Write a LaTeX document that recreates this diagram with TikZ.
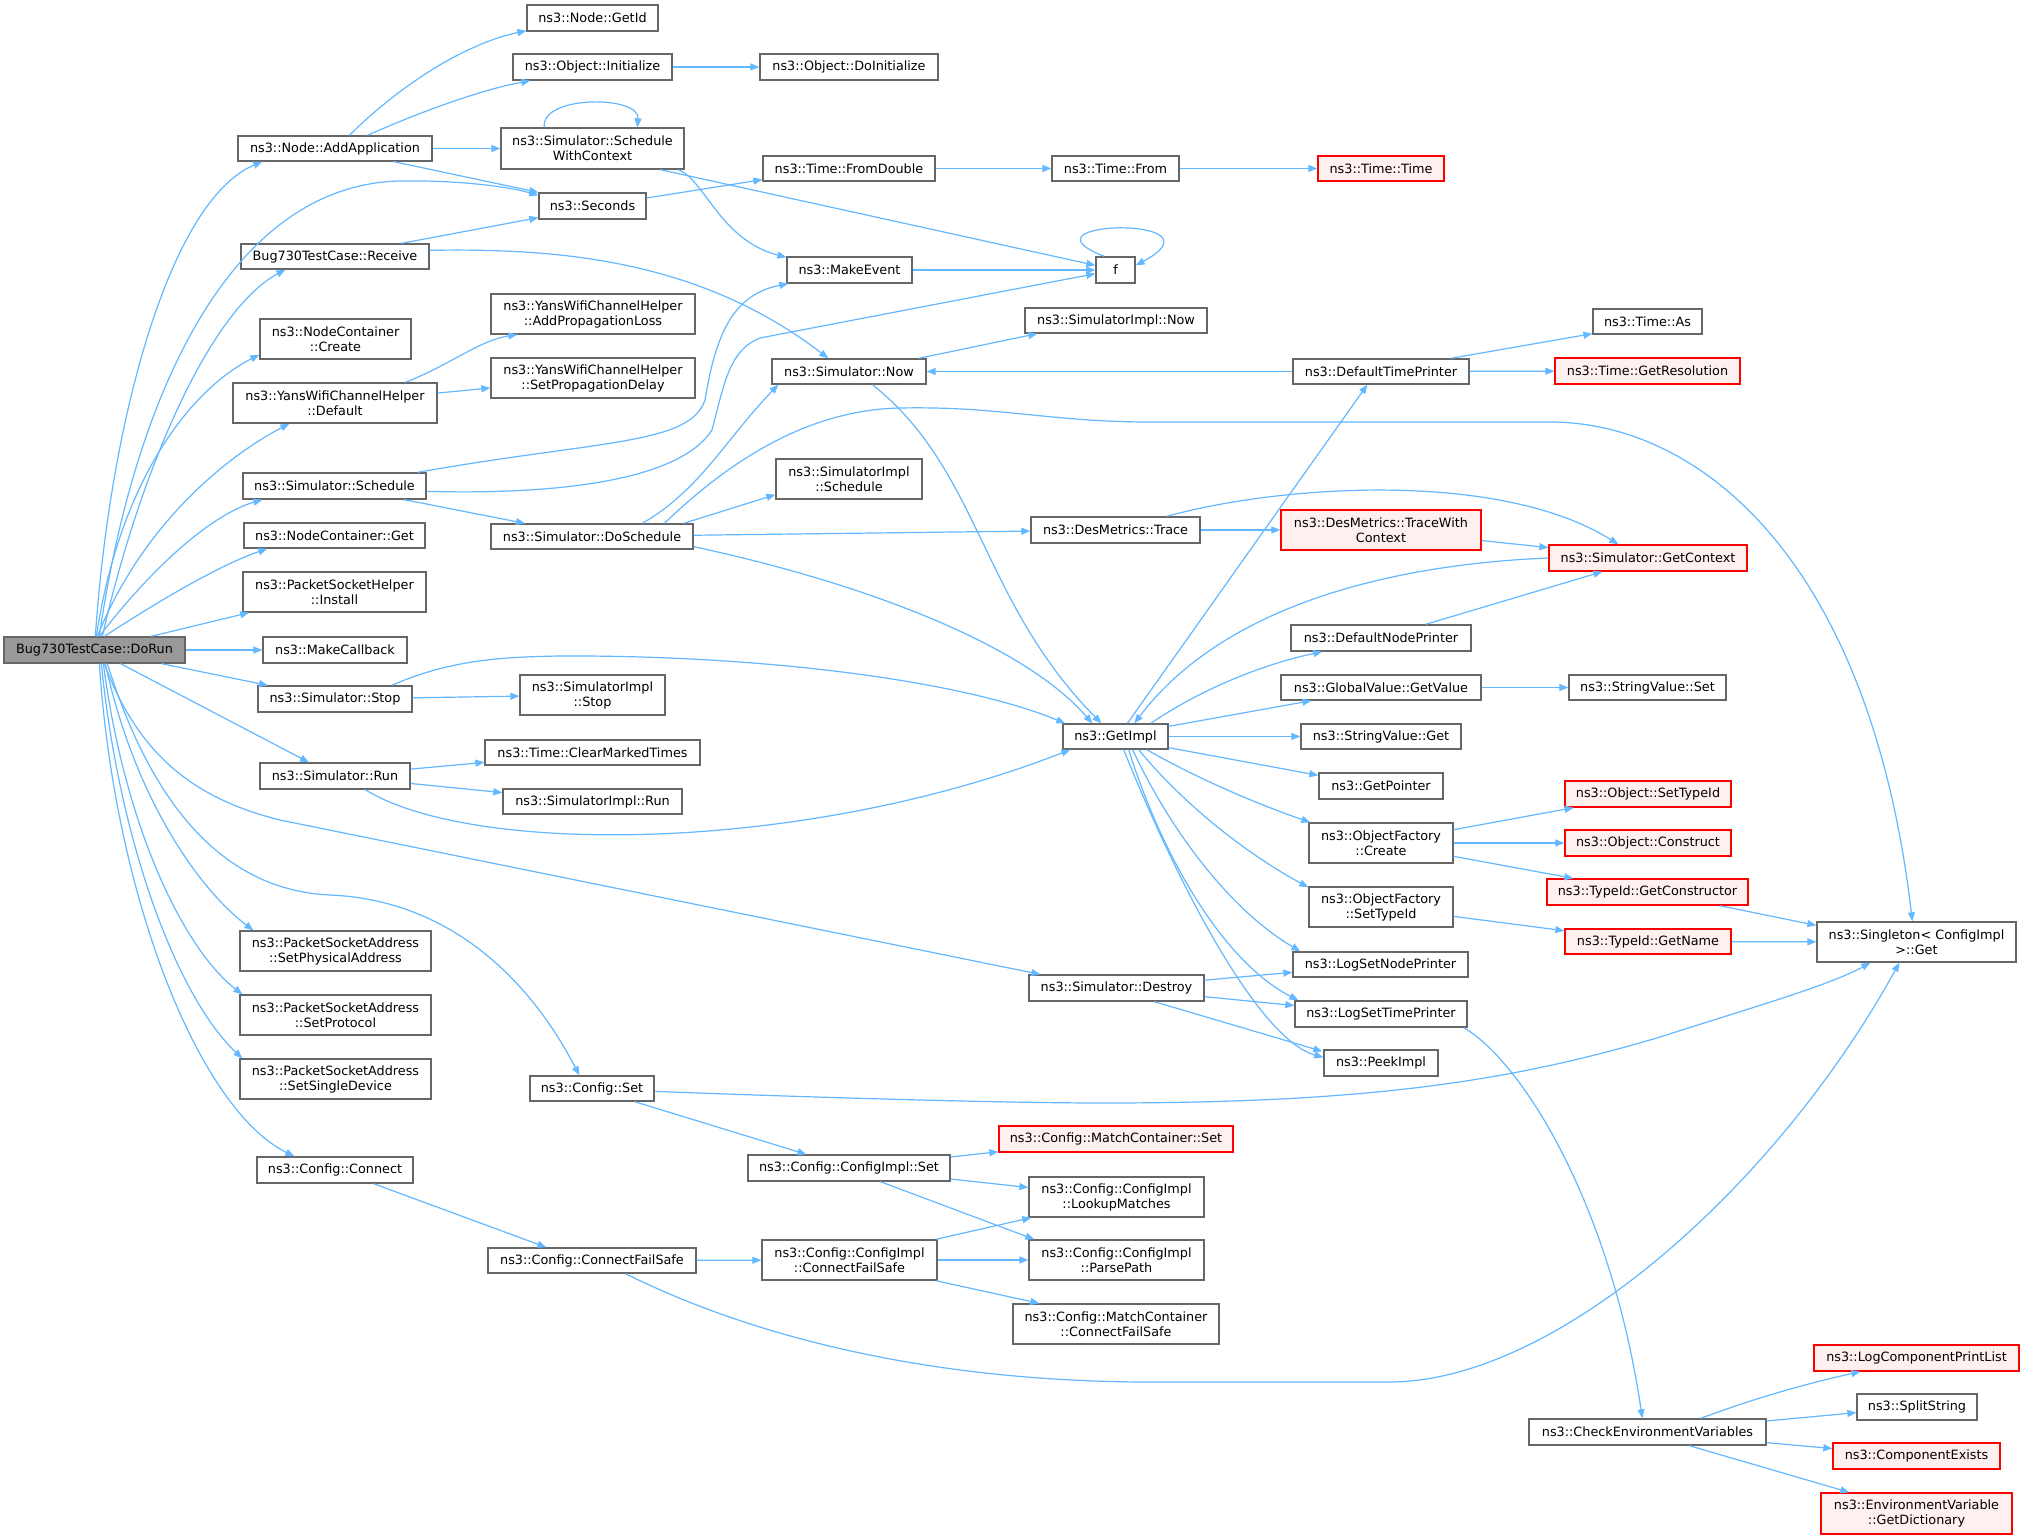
\documentclass[tikz,border=0pt]{standalone}
\usepackage{fontspec}
\setmainfont{DejaVu Sans}
\usetikzlibrary{arrows.meta}
\definecolor{edgec}{HTML}{63B8FF}
\definecolor{nodeb}{HTML}{666666}
\definecolor{redfill}{HTML}{FFF0F0}
\definecolor{redb}{HTML}{FF0000}
\definecolor{rootfill}{HTML}{999999}
\newcommand{\bx}[7]{\node[#1, minimum width={(#5-#3)*1pt}, minimum height={(#6-#4)*1pt}] (#2) at ({(#3+#5)/2},{(#4+#6)/2}) {#7};}
\begin{document}
\begin{tikzpicture}[x=1pt,y=-1pt,
 box/.style={draw=nodeb, fill=white, line width=1.3pt, inner sep=0pt, align=center, font=\fontsize{12.8}{15}\selectfont},
 redbox/.style={box, draw=redb, fill=redfill},
 rootbox/.style={box, fill=rootfill},
 e/.style={draw=edgec, line width=1.2pt, -{Triangle[length=9pt,width=7pt]}}]
\fill[white] (0,0) rectangle (2024,1539);
\useasboundingbox (0,0) rectangle (2024,1539);

\bx{rootbox}{DoRun}{4}{637}{185}{663}{Bug730TestCase::DoRun}
\bx{box}{GetId}{527}{5}{658}{31}{ns3::Node::GetId}
\bx{box}{ObjInit}{513}{54}{672}{80}{ns3::Object::Initialize}
\bx{box}{DoInit}{760}{54}{938}{80}{ns3::Object::DoInitialize}
\bx{box}{SWC}{501}{128}{684}{169}{ns3::Simulator::Schedule\\WithContext}
\bx{box}{AddApp}{238}{136}{432}{161}{ns3::Node::AddApplication}
\bx{box}{Seconds}{539}{193}{646}{219}{ns3::Seconds}
\bx{box}{FromDouble}{763}{156}{935}{181}{ns3::Time::FromDouble}
\bx{box}{TimeFrom}{1052}{156}{1179}{181}{ns3::Time::From}
\bx{redbox}{TimeTime}{1318}{156}{1444}{181}{ns3::Time::Time}
\bx{box}{Receive}{241}{244}{429}{269}{Bug730TestCase::Receive}
\bx{box}{MakeEvent}{787}{257}{912}{283}{ns3::MakeEvent}
\bx{box}{f}{1096}{257}{1135}{283}{f}
\bx{box}{AddPropLoss}{491}{294}{695}{334}{ns3::YansWifiChannelHelper\\::AddPropagationLoss}
\bx{box}{SimImplNow}{1025}{308}{1207}{333}{ns3::SimulatorImpl::Now}
\bx{box}{TimeAs}{1593}{309}{1702}{334}{ns3::Time::As}
\bx{box}{NCCreate}{260}{319}{411}{359}{ns3::NodeContainer\\::Create}
\bx{box}{SetPropDelay}{491}{358}{695}{398}{ns3::YansWifiChannelHelper\\::SetPropagationDelay}
\bx{box}{SimNow}{772}{359}{926}{384}{ns3::Simulator::Now}
\bx{box}{DTP}{1293}{359}{1469}{384}{ns3::DefaultTimePrinter}
\bx{redbox}{GetRes}{1555}{358}{1740}{384}{ns3::Time::GetResolution}
\bx{box}{YansDefault}{233}{383}{437}{423}{ns3::YansWifiChannelHelper\\::Default}
\bx{box}{SimImplSched}{776}{459}{922}{499}{ns3::SimulatorImpl\\::Schedule}
\bx{box}{Schedule}{243}{473}{426}{499}{ns3::Simulator::Schedule}
\bx{redbox}{TraceWC}{1281}{510}{1481}{550}{ns3::DesMetrics::TraceWith\\Context}
\bx{box}{Trace}{1031}{517}{1200}{543}{ns3::DesMetrics::Trace}
\bx{box}{NCGet}{244}{523}{425}{548}{ns3::NodeContainer::Get}
\bx{box}{DoSchedule}{491}{524}{693}{549}{ns3::Simulator::DoSchedule}
\bx{redbox}{GetContext}{1549}{545}{1747}{571}{ns3::Simulator::GetContext}
\bx{box}{Install}{243}{572}{426}{612}{ns3::PacketSocketHelper\\::Install}
\bx{box}{DNP}{1291}{625}{1471}{651}{ns3::DefaultNodePrinter}
\bx{box}{MakeCallback}{263}{637}{407}{663}{ns3::MakeCallback}
\bx{box}{GetValue}{1281}{675}{1481}{700}{ns3::GlobalValue::GetValue}
\bx{box}{SVSet}{1569}{675}{1726}{700}{ns3::StringValue::Set}
\bx{box}{SimImplStop}{520}{675}{665}{715}{ns3::SimulatorImpl\\::Stop}
\bx{box}{Stop}{258}{686}{412}{712}{ns3::Simulator::Stop}
\bx{box}{GetImpl}{1063}{724}{1168}{749}{ns3::GetImpl}
\bx{box}{SVGet}{1301}{724}{1461}{749}{ns3::StringValue::Get}
\bx{box}{ClearMarked}{485}{740}{700}{765}{ns3::Time::ClearMarkedTimes}
\bx{box}{Run}{260}{763}{410}{789}{ns3::Simulator::Run}
\bx{box}{SimImplRun}{503}{789}{682}{814}{ns3::SimulatorImpl::Run}
\bx{box}{GetPointer}{1319}{773}{1443}{799}{ns3::GetPointer}
\bx{redbox}{ObjSetTypeId}{1565}{781}{1731}{807}{ns3::Object::SetTypeId}
\bx{box}{OFCreate}{1309}{823}{1453}{863}{ns3::ObjectFactory\\::Create}
\bx{redbox}{Construct}{1565}{830}{1731}{856}{ns3::Object::Construct}
\bx{redbox}{GetConstructor}{1547}{879}{1748}{905}{ns3::TypeId::GetConstructor}
\bx{box}{OFSetTypeId}{1309}{887}{1453}{927}{ns3::ObjectFactory\\::SetTypeId}
\bx{box}{Singleton}{1817}{922}{2016}{962}{ns3::Singleton< ConfigImpl\\ >::Get}
\bx{redbox}{GetName}{1565}{929}{1731}{954}{ns3::TypeId::GetName}
\bx{box}{SetPhys}{240}{931}{431}{971}{ns3::PacketSocketAddress\\::SetPhysicalAddress}
\bx{box}{LogSetNode}{1293}{952}{1468}{977}{ns3::LogSetNodePrinter}
\bx{box}{Destroy}{1029}{975}{1204}{1001}{ns3::Simulator::Destroy}
\bx{box}{SetProto}{240}{995}{431}{1035}{ns3::PacketSocketAddress\\::SetProtocol}
\bx{box}{LogSetTime}{1295}{1001}{1467}{1027}{ns3::LogSetTimePrinter}
\bx{box}{PeekImpl}{1324}{1050}{1438}{1076}{ns3::PeekImpl}
\bx{box}{SetSingle}{240}{1059}{431}{1099}{ns3::PacketSocketAddress\\::SetSingleDevice}
\bx{box}{ConfigSet}{530}{1076}{654}{1101}{ns3::Config::Set}
\bx{redbox}{MCSet}{999}{1126}{1233}{1152}{ns3::Config::MatchContainer::Set}
\bx{box}{ConfigImplSet}{748}{1155}{950}{1181}{ns3::Config::ConfigImpl::Set}
\bx{box}{Connect}{257}{1157}{413}{1183}{ns3::Config::Connect}
\bx{box}{Lookup}{1029}{1177}{1204}{1217}{ns3::Config::ConfigImpl\\::LookupMatches}
\bx{box}{CIConnectFS}{762}{1240}{937}{1280}{ns3::Config::ConfigImpl\\::ConnectFailSafe}
\bx{box}{ParsePath}{1029}{1240}{1204}{1280}{ns3::Config::ConfigImpl\\::ParsePath}
\bx{box}{ConnectFS}{488}{1248}{696}{1273}{ns3::Config::ConnectFailSafe}
\bx{box}{MCConnectFS}{1013}{1304}{1219}{1344}{ns3::Config::MatchContainer\\::ConnectFailSafe}
\bx{redbox}{LogCompPL}{1814}{1345}{2019}{1371}{ns3::LogComponentPrintList}
\bx{box}{SplitString}{1857}{1394}{1977}{1420}{ns3::SplitString}
\bx{box}{CheckEnv}{1529}{1419}{1766}{1445}{ns3::CheckEnvironmentVariables}
\bx{redbox}{CompExists}{1833}{1443}{2000}{1469}{ns3::ComponentExists}
\bx{redbox}{GetDict}{1821}{1493}{2012}{1534}{ns3::EnvironmentVariable\\::GetDictionary}

% DoRun
\draw[e] ([shift={(92,0)}]DoRun.north west) .. controls (110,420) and (170,200) .. ([shift={(25,0)}]AddApp.south west);
\draw[e] ([shift={(96,0)}]DoRun.north west) .. controls (130,420) and (220,185) .. (400,181) .. controls (460,180) and (510,187) .. ([shift={(0,3)}]Seconds.north west);
\draw[e] ([shift={(99,0)}]DoRun.north west) .. controls (140,470) and (210,310) .. ([shift={(45,0)}]Receive.south west);
\draw[e] ([shift={(93,0)}]DoRun.north west) .. controls (120,480) and (190,390) .. ([shift={(0,-5)}]NCCreate.south west);
\draw[e] ([shift={(94,0)}]DoRun.north west) .. controls (140,530) and (220,460) .. ([shift={(57,0)}]YansDefault.south west);
\draw[e] ([shift={(96,0)}]DoRun.north west) .. controls (150,570) and (210,515) .. ([shift={(20,0)}]Schedule.south west);
\draw[e] ([shift={(101,0)}]DoRun.north west) .. controls (160,600) and (220,565) .. ([shift={(24,0)}]NCGet.south west);
\draw[e] (DoRun) -- (Install);
\draw[e] (DoRun) -- (MakeCallback);
\draw[e] (DoRun) -- (Stop);
\draw[e] (DoRun) -- (Run);
\draw[e] ([shift={(101,0)}]DoRun.south west) .. controls (140,760) and (200,800) .. (280,820) -- ([shift={(12,0)}]Destroy.north west);
\draw[e] ([shift={(104,0)}]DoRun.south west) .. controls (150,800) and (220,890) .. (330,895) .. controls (450,900) and (530,980) .. ([shift={(50,0)}]ConfigSet.north west);
\draw[e] ([shift={(102,0)}]DoRun.south west) .. controls (135,800) and (200,890) .. ([shift={(14,0)}]SetPhys.north west);
\draw[e] ([shift={(100,0)}]DoRun.south west) .. controls (125,830) and (185,950) .. ([shift={(3,0)}]SetProto.north west);
\draw[e] ([shift={(98,0)}]DoRun.south west) .. controls (120,850) and (180,1000) .. ([shift={(3,0)}]SetSingle.north west);
\draw[e] ([shift={(96,0)}]DoRun.south west) .. controls (115,900) and (200,1110) .. ([shift={(38,0)}]Connect.north west);

% AddApplication
\draw[e] ([shift={(112,0)}]AddApp.north west) .. controls (395,90) and (460,45) .. ([shift={(0,-1)}]GetId.south west);
\draw[e] ([shift={(130,0)}]AddApp.north west) .. controls (420,112) and (480,90) .. ([shift={(18,0)}]ObjInit.south west);
\draw[e] (AddApp) -- (SWC);
\draw[e] ([shift={(-39,0)}]AddApp.south east) -- (Seconds.north west);

% ScheduleWithContext
\draw[e] ([shift={(44,0)}]SWC.north west) .. controls (540,95) and (640,95) .. ([shift={(137,0)}]SWC.north west);
\draw[e] ([shift={(160,0)}]SWC.south west) -- ([shift={(0,9)}]f.north west);
\draw[e] ([shift={(178,0)}]SWC.south west) .. controls (705,180) and (720,240) .. ([shift={(0,1)}]MakeEvent.north west);
\draw[e] (ObjInit) -- (DoInit);
\draw[e] ([shift={(0,-8)}]Seconds.east) -- ([shift={(0,-2)}]FromDouble.south west);
\draw[e] (FromDouble) -- (TimeFrom);
\draw[e] (TimeFrom) -- (TimeTime);

% Receive
\draw[e] ([shift={(161,0)}]Receive.north west) -- ([shift={(0,-2)}]Seconds.south west);
\draw[e] ([shift={(0,7)}]Receive.north east) .. controls (560,248) and (700,260) .. ([shift={(57,0)}]SimNow.north west);
\draw[e] (MakeEvent) -- (f);
\draw[e] ([shift={(9,0)}]f.north west) .. controls (1010,220) and (1230,215) .. ([shift={(0,9)}]f.north east);

% Yans
\draw[e] ([shift={(173,0)}]YansDefault.north west) .. controls (450,365) and (480,340) .. ([shift={(27,0)}]AddPropLoss.south west);
\draw[e] (YansDefault) -- (SetPropDelay);

% Schedule
\draw[e] ([shift={(-9,0)}]Schedule.north east) .. controls (600,440) and (690,445) .. (705,400) .. controls (715,340) and (730,295) .. ([shift={(2,0)}]MakeEvent.south west);
\draw[e] ([shift={(0,19)}]Schedule.north east) .. controls (560,495) and (680,480) .. (712,430) .. controls (725,380) and (730,350) .. (760,338) -- ([shift={(0,-10)}]f.south west);
\draw[e] (Schedule) -- (DoSchedule);

% DoSchedule
\draw[e] ([shift={(152,0)}]DoSchedule.north west) .. controls (700,490) and (725,440) .. ([shift={(7,0)}]SimNow.south west);
\draw[e] ([shift={(174,0)}]DoSchedule.north west) .. controls (720,470) and (800,410) .. (900,408) .. controls (1000,406) and (1050,422) .. (1150,422) -- (1550,422) .. controls (1700,422) and (1870,560) .. ([shift={(96,0)}]Singleton.north west);
\draw[e] ([shift={(-10,0)}]DoSchedule.north east) -- ([shift={(0,-5)}]SimImplSched.south west);
\draw[e] (DoSchedule) -- (Trace);
\draw[e] ([shift={(0,-3)}]DoSchedule.south east) .. controls (850,580) and (1020,640) .. ([shift={(30,0)}]GetImpl.north west);

% Simulator::Now
\draw[e] ([shift={(-8,0)}]SimNow.north east) -- ([shift={(13,0)}]SimImplNow.south west);
\draw[e] ([shift={(101,0)}]SimNow.south west) .. controls (980,470) and (980,600) .. ([shift={(39,0)}]GetImpl.north west);

% DefaultTimePrinter
\draw[e] (DTP) -- (SimNow);
\draw[e] ([shift={(-19,0)}]DTP.north east) -- ([shift={(0,-1)}]TimeAs.south west);
\draw[e] (DTP) -- (GetRes);

% GetImpl
\draw[e] ([shift={(65,0)}]GetImpl.north west) -- ([shift={(75,0)}]DTP.south west);
\draw[e] ([shift={(-18,0)}]GetImpl.north east) .. controls (1200,690) and (1260,665) .. ([shift={(32,0)}]DNP.south west);
\draw[e] ([shift={(0,3)}]GetImpl.north east) -- ([shift={(31,0)}]GetValue.south west);
\draw[e] (GetImpl) -- (SVGet);
\draw[e] ([shift={(0,-2)}]GetImpl.south east) -- ([shift={(0,3)}]GetPointer.north west);
\draw[e] ([shift={(-22,0)}]GetImpl.south east) .. controls (1200,780) and (1260,805) .. ([shift={(2,0)}]OFCreate.north west);
\draw[e] ([shift={(-30,0)}]GetImpl.south east) .. controls (1180,800) and (1240,850) .. ([shift={(0,1)}]OFSetTypeId.north west);
\draw[e] ([shift={(-36,0)}]GetImpl.south east) .. controls (1170,830) and (1230,910) .. ([shift={(8,0)}]LogSetNode.north west);
\draw[e] ([shift={(-40,0)}]GetImpl.south east) .. controls (1160,850) and (1220,960) .. ([shift={(4,0)}]LogSetTime.north west);
\draw[e] ([shift={(-45,0)}]GetImpl.south east) .. controls (1180,890) and (1260,1040) .. ([shift={(0,8)}]PeekImpl.north west);

% GetContext and friends
\draw[e] (GetContext.west) .. controls (1380,565) and (1220,610) .. ([shift={(72,0)}]GetImpl.north west);
\draw[e] (Trace) -- (TraceWC);
\draw[e] ([shift={(-34,0)}]Trace.north east) .. controls (1280,485) and (1500,470) .. ([shift={(70,0)}]GetContext.north west);
\draw[e] (TraceWC) -- (GetContext);
\draw[e] ([shift={(-46,0)}]DNP.north east) -- ([shift={(54,0)}]GetContext.south west);
\draw[e] (GetValue) -- (SVSet);

% Stop
\draw[e] (Stop) -- (SimImplStop);
\draw[e] ([shift={(-21,0)}]Stop.north east) .. controls (450,660) and (500,657) .. (560,656) .. controls (760,655) and (960,680) .. ([shift={(3,0)}]GetImpl.north west);

% Run
\draw[e] (Run) -- (ClearMarked);
\draw[e] (Run) -- (SimImplRun);
\draw[e] ([shift={(106,0)}]Run.south west) .. controls (470,855) and (800,855) .. ([shift={(8,0)}]GetImpl.south west);

% Destroy
\draw[e] (Destroy) -- (LogSetNode);
\draw[e] (Destroy) -- (LogSetTime);
\draw[e] ([shift={(126,0)}]Destroy.south west) -- ([shift={(-1,2)}]PeekImpl.north west);

% ObjectFactory
\draw[e] (OFCreate) -- (ObjSetTypeId);
\draw[e] (OFCreate) -- (Construct);
\draw[e] (OFCreate) -- (GetConstructor);
\draw[e] (OFSetTypeId) -- (GetName);
\draw[e] ([shift={(-29,0)}]GetConstructor.south east) -- ([shift={(0,4)}]Singleton.north west);
\draw[e] (GetName) -- (Singleton);

% Config
\draw[e] ([shift={(0,16)}]ConfigSet.north east) .. controls (800,1097) and (1000,1103) .. (1102,1103) .. controls (1350,1103) and (1500,1085) .. (1660,1037) .. controls (1760,1005) and (1830,985) .. ([shift={(54,0)}]Singleton.south west);
\draw[e] ([shift={(-20,0)}]ConfigSet.south east) -- ([shift={(59,0)}]ConfigImplSet.north west);
\draw[e] (ConfigImplSet) -- (MCSet);
\draw[e] (ConfigImplSet) -- (Lookup);
\draw[e] ([shift={(133,0)}]ConfigImplSet.south west) -- ([shift={(6,0)}]ParsePath.north west);
\draw[e] ([shift={(-40,0)}]Connect.south east) -- ([shift={(59,0)}]ConnectFS.north west);
\draw[e] (ConnectFS) -- (CIConnectFS);
\draw[e] ([shift={(-2,0)}]CIConnectFS.north east) -- ([shift={(3,0)}]Lookup.south west);
\draw[e] (CIConnectFS) -- (ParsePath);
\draw[e] ([shift={(-2,0)}]CIConnectFS.south east) -- ([shift={(27,0)}]MCConnectFS.north west);
\draw[e] ([shift={(138,0)}]ConnectFS.south west) .. controls (800,1360) and (1000,1382) .. (1150,1382) -- (1389,1382) .. controls (1560,1382) and (1780,1180) .. ([shift={(83,0)}]Singleton.south west);

% CheckEnvironmentVariables
\draw[e] ([shift={(-4,0)}]LogSetTime.south east) .. controls (1520,1060) and (1610,1200) .. ([shift={(114,0)}]CheckEnv.north west);
\draw[e] ([shift={(-66,0)}]CheckEnv.north east) .. controls (1750,1400) and (1800,1385) .. ([shift={(47,0)}]LogCompPL.south west);
\draw[e] (CheckEnv) -- (SplitString);
\draw[e] (CheckEnv) -- (CompExists);
\draw[e] ([shift={(161,0)}]CheckEnv.south west) -- ([shift={(29,0)}]GetDict.north west);
\end{tikzpicture}
\end{document}
